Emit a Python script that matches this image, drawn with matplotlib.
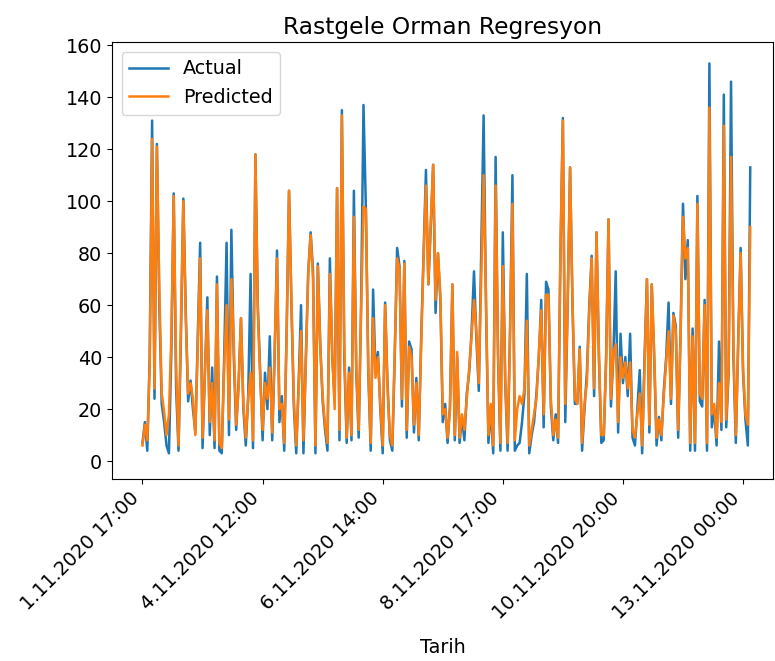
import matplotlib
matplotlib.use("Agg")
import matplotlib.pyplot as plt
import pandas as pd

# values, one per hourly sample
actual = [
    7, 15, 4, 40, 131, 24, 122, 60, 22, 15,
    6, 3, 42, 103, 28, 4, 48, 101, 58, 23,
    31, 20, 11, 48, 84, 5, 35, 63, 10, 36,
    5, 71, 4, 3, 40, 84, 10, 89, 40, 12,
    30, 55, 20, 6, 25, 72, 5, 118, 60, 34,
    8, 34, 20, 48, 8, 40, 81, 15, 25, 4,
    50, 104, 60, 21, 3, 30, 60, 3, 40, 73,
    88, 73, 3, 76, 45, 23, 12, 4, 78, 40,
    23, 105, 8, 135, 40, 7, 36, 8, 104, 34,
    9, 60, 137, 97, 34, 4, 66, 34, 42, 20,
    3, 61, 30, 8, 4, 40, 82, 75, 21, 77,
    9, 46, 43, 11, 32, 8, 47, 80, 112, 68,
    90, 114, 57, 80, 62, 15, 22, 7, 21, 68,
    8, 40, 7, 17, 8, 26, 34, 50, 73, 47,
    27, 80, 133, 60, 7, 20, 3, 117, 40, 4,
    88, 30, 4, 50, 110, 4, 6, 7, 15, 26,
    72, 3, 10, 15, 26, 40, 62, 13, 69, 66,
    21, 8, 18, 7, 80, 132, 15, 60, 113, 60,
    22, 22, 44, 4, 20, 34, 60, 79, 25, 88,
    40, 7, 8, 40, 93, 21, 40, 73, 11, 49,
    30, 40, 25, 49, 9, 6, 20, 35, 3, 40,
    70, 11, 68, 40, 6, 17, 8, 27, 40, 61,
    22, 57, 52, 9, 50, 99, 70, 85, 4, 51,
    4, 102, 23, 21, 62, 4, 153, 13, 20, 6,
    46, 12, 141, 13, 34, 146, 40, 7, 47, 82,
    34, 16, 6, 113,
]
predicted = [
    6, 14, 8, 37, 124, 28, 121, 66, 26, 19,
    10, 18, 48, 102, 36, 6, 52, 100, 55, 26,
    30, 24, 10, 44, 78, 9, 33, 58, 15, 30,
    8, 68, 7, 5, 36, 60, 16, 70, 46, 14,
    28, 55, 22, 9, 24, 34, 8, 118, 58, 32,
    12, 30, 24, 36, 11, 42, 78, 20, 22, 7,
    48, 104, 62, 24, 6, 28, 50, 8, 38, 72,
    87, 70, 6, 75, 44, 25, 14, 7, 72, 42,
    20, 105, 12, 133, 45, 9, 34, 10, 94, 36,
    12, 58, 98, 97, 36, 7, 55, 32, 40, 22,
    6, 60, 28, 10, 6, 42, 78, 74, 24, 76,
    12, 44, 40, 14, 30, 10, 44, 78, 106, 68,
    92, 114, 62, 80, 64, 18, 20, 9, 20, 68,
    10, 42, 9, 18, 12, 24, 36, 48, 62, 50,
    30, 70, 110, 62, 10, 22, 6, 106, 42, 7,
    75, 32, 7, 48, 99, 8, 20, 25, 22, 28,
    54, 6, 12, 18, 24, 42, 58, 18, 64, 64,
    24, 10, 16, 9, 82, 131, 22, 62, 113, 62,
    24, 22, 43, 7, 22, 30, 58, 78, 28, 88,
    42, 10, 10, 38, 93, 24, 42, 45, 15, 40,
    32, 38, 28, 38, 12, 9, 18, 26, 6, 36,
    70, 14, 68, 42, 9, 16, 10, 25, 38, 50,
    24, 56, 50, 12, 48, 94, 78, 82, 7, 48,
    7, 99, 26, 24, 60, 7, 136, 18, 22, 9,
    30, 15, 129, 16, 36, 117, 44, 10, 45, 80,
    36, 18, 14, 90,
]
tick_labels = ["1.11.2020 17:00", "4.11.2020 12:00", "6.11.2020 14:00",
               "8.11.2020 17:00", "10.11.2020 20:00", "13.11.2020 00:00"]

df = pd.DataFrame({"Actual": actual, "Predicted": predicted})

plt.rcParams["font.size"] = 13.8
fig = plt.figure(figsize=(7.75, 6.61), dpi=100)
ax = fig.add_axes([0.1445, 0.2753, 0.853, 0.661])

ax.plot(df.index, df["Actual"], color="#1f77b4", lw=1.8, label="Actual")
ax.plot(df.index, df["Predicted"], color="#ff7f0e", lw=1.8, label="Predicted")

ax.set_xticks(range(0, len(df), 50))
ax.set_xticklabels(tick_labels, rotation=45, ha="right")
ax.set_xlim(-12.7, 262.5)
ax.set_ylim(-6.9, 161.2)
ax.set_xlabel("Tarih", labelpad=11)
ax.set_title("Rastgele Orman Regresyon", fontsize=16.8)
ax.legend(loc="upper left")

fig.savefig("out.png", dpi=100)
